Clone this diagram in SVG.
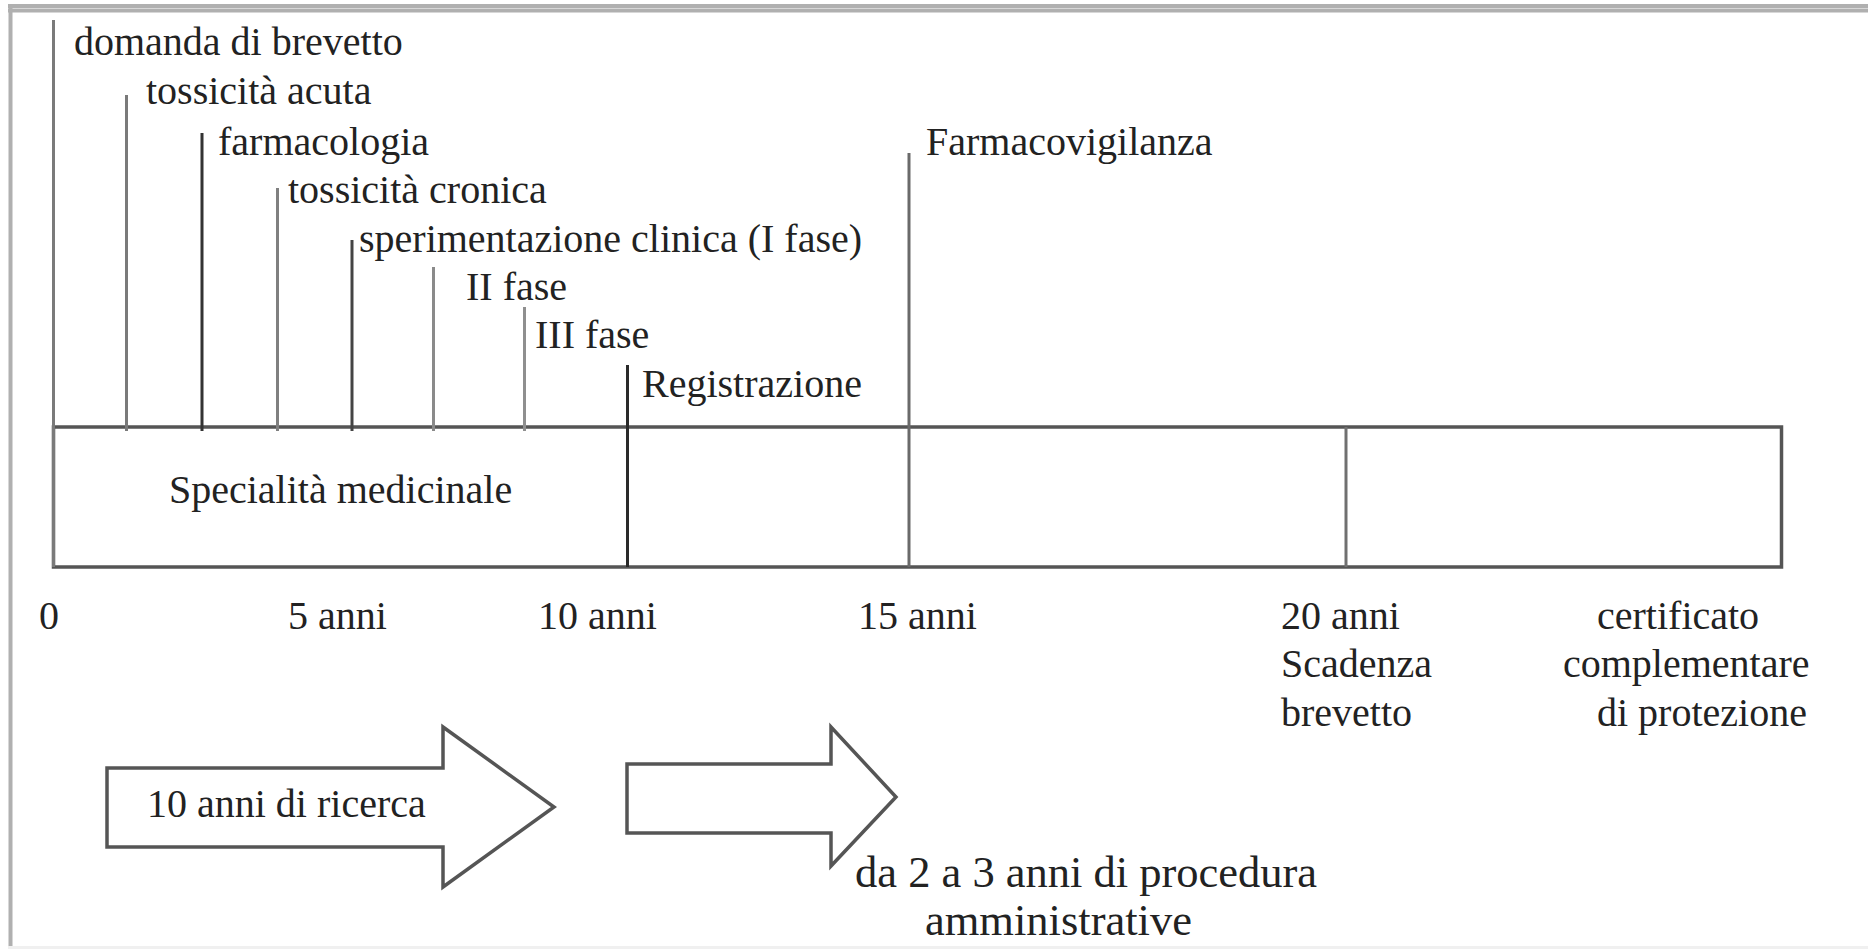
<svg xmlns="http://www.w3.org/2000/svg" width="1868" height="949" viewBox="0 0 1868 949">
<style>
  text { font-family: "Liberation Serif", "Times New Roman", serif; font-size: 40px; fill: #222; }
  .big { font-size: 44.5px; }
  .frame { stroke: #b0b0b0; stroke-width: 4; fill: none; }
  .tick { stroke-width: 3; fill: none; }
  .box { fill: #fff; stroke: #555; stroke-width: 3.5; }
  .arrow { fill: #fff; stroke: #555; stroke-width: 3.5; stroke-linejoin: miter; }
</style>
<rect x="0" y="0" width="1868" height="949" fill="#fff"/>
<g id="frame">
  <line class="frame" x1="8" y1="6" x2="1868" y2="6" stroke="#d4d4d4"/>
  <line class="frame" x1="8" y1="10.5" x2="1868" y2="10.5"/>
  <line class="frame" x1="10.5" y1="8" x2="10.5" y2="949" stroke="#a8a8a8"/>
  <line x1="8" y1="947.5" x2="1868" y2="947.5" stroke="#f0f0f0" stroke-width="3"/>
</g>
<g id="timeline-box">
  <rect class="box" x="53.5" y="427" width="1728" height="140"/>
  <text x="169" y="503">Specialità medicinale</text>
</g>
<g id="connectors">
  <line class="tick" x1="53.5" y1="20" x2="53.5" y2="567" stroke="#7a7a7a" stroke-width="4"/>
  <line class="tick" x1="126.5" y1="95" x2="126.5" y2="431" stroke="#7a7a7a"/>
  <line class="tick" x1="202" y1="133" x2="202" y2="431" stroke="#333"/>
  <line class="tick" x1="277.5" y1="188" x2="277.5" y2="431" stroke="#808080"/>
  <line class="tick" x1="352" y1="240" x2="352" y2="431" stroke="#444"/>
  <line class="tick" x1="433.5" y1="267" x2="433.5" y2="431" stroke="#8a8a8a" stroke-width="4"/>
  <line class="tick" x1="524.5" y1="307" x2="524.5" y2="431" stroke="#8f8f8f" stroke-width="4"/>
  <line class="tick" x1="627.5" y1="365" x2="627.5" y2="567" stroke="#2a2a2a"/>
  <line class="tick" x1="909" y1="153" x2="909" y2="567" stroke="#6a6a6a"/>
  <line class="tick" x1="1346" y1="427" x2="1346" y2="567" stroke="#707070" stroke-width="4"/>
</g>
<g id="m-domanda"><text x="74" y="55">domanda di brevetto</text></g>
<g id="m-acuta"><text x="146" y="104">tossicità acuta</text></g>
<g id="m-farmacologia"><text x="218" y="155">farmacologia</text></g>
<g id="m-cronica"><text x="288" y="203">tossicità cronica</text></g>
<g id="m-fase1"><text x="359" y="252">sperimentazione clinica (I fase)</text></g>
<g id="m-fase2"><text x="466" y="300">II fase</text></g>
<g id="m-fase3"><text x="535" y="348">III fase</text></g>
<g id="m-registrazione"><text x="642" y="397">Registrazione</text></g>
<g id="m-farmacovigilanza"><text x="926" y="155">Farmacovigilanza</text></g>
<g id="axis-labels">
  <text x="39" y="629">0</text>
  <text x="288" y="629">5 anni</text>
  <text x="538" y="629">10 anni</text>
  <text x="858" y="629">15 anni</text>
  <text x="1281" y="629">20 anni</text>
  <text x="1281" y="677">Scadenza</text>
  <text x="1281" y="726">brevetto</text>
  <text x="1597" y="629">certificato</text>
  <text x="1563" y="677">complementare</text>
  <text x="1597" y="726">di protezione</text>
</g>
<g id="arrow-ricerca">
  <polygon class="arrow" points="107,768 443,768 443,727 554,807 443,887 443,847 107,847"/>
  <text x="147" y="817">10 anni di ricerca</text>
</g>
<g id="arrow-procedura">
  <polygon class="arrow" points="627,764 831,764 831,727 896,797 831,866 831,833 627,833"/>
  <text class="big" x="855" y="887">da 2 a 3 anni di procedura</text>
  <text class="big" x="925" y="935">amministrative</text>
</g>
</svg>
